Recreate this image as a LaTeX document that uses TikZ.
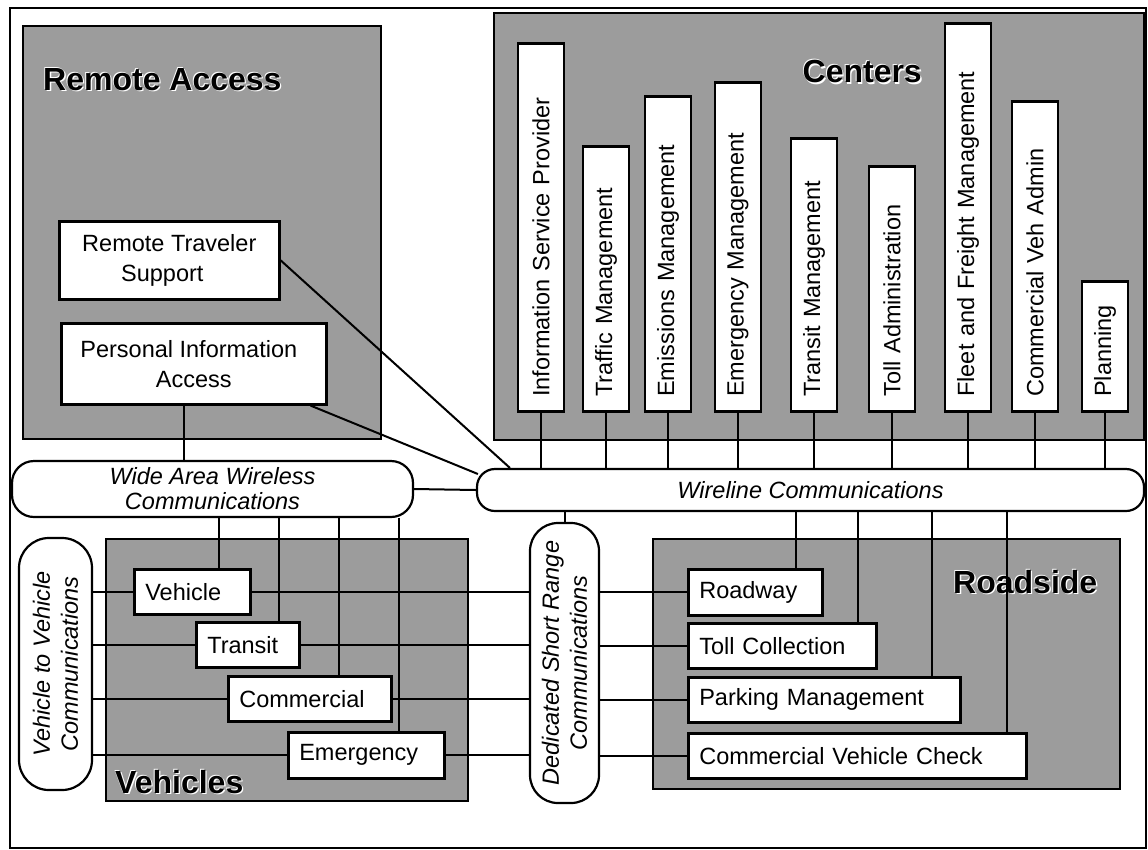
\documentclass[tikz,border=0pt]{standalone}
\usepackage{fontspec}
\setmainfont{Liberation Sans}
\usetikzlibrary{calc}
\definecolor{zonegray}{RGB}{156,156,156}
\pgfdeclarelayer{zones}
\pgfdeclarelayer{wires}
\pgfsetlayers{zones,wires,main}
% bold zone title with a light white halo
\newcommand\halotxt[1]{{\setbox0=\hbox{#1}%
  \rlap{\color{white}\kern1.3pt\lower1.3pt\copy0}%
  \rlap{\color{white}\kern-0.9pt\raise0.9pt\copy0}%
  \box0}}
\begin{document}
\begin{tikzpicture}[x=1pt,y=-1pt,
  zone/.style={draw=black, line width=2.4pt, fill=zonegray, inner sep=0pt, anchor=north west},
  unit/.style={draw=black, line width=2.6pt, fill=white, inner sep=0pt,
    font=\fontsize{23.5}{30}\selectfont},
  rowunit/.style={unit, anchor=north west, align=left, inner xsep=11pt},
  colunit/.style={unit, rotate=90, anchor=west, minimum height=46pt, align=left, inner xsep=15pt},
  channel/.style={draw=black, line width=2.2pt, fill=white, inner sep=0pt, align=center,
    font=\fontsize{23.5}{25}\selectfont\itshape},
  upright channel/.style={channel, rotate=90, font=\fontsize{23.5}{28}\selectfont\itshape},
  link/.style={line width=2pt},
  zonetitle/.style={inner sep=0pt, font=\fontsize{32}{36}\selectfont\bfseries},
]
\useasboundingbox (0,0) rectangle (1148,849);

% frame, shaded zones and their titles
\begin{pgfonlayer}{zones}
  \node[draw=black, line width=1.6pt, inner sep=0pt, anchor=north west,
        minimum width=1136pt, minimum height=840pt] (frame) at (9,7) {};
  \node[zone, minimum width=358pt, minimum height=413pt] (remote) at (22,25) {};
  \node[zone, minimum width=650pt, minimum height=427pt] (centers) at (493,12) {};
  \node[zone, minimum width=362pt, minimum height=262pt] (vehicles) at (105,538) {};
  \node[zone, minimum width=467pt, minimum height=250pt] (roadside) at (652,538) {};
  \node[zonetitle, anchor=west] (ratitle) at (43,80) {\halotxt{Remote Access}};
  \node[zonetitle, anchor=east] (cetitle) at (922,72) {\halotxt{Centers}};
  \node[zonetitle, anchor=west] (rstitle) at (953,582) {\halotxt{Roadside}};
  \node[zonetitle, anchor=west] (vetitle) at (115,782) {\halotxt{Vehicles}};
\end{pgfonlayer}

% remote access units
\node[unit, anchor=north west, align=center, minimum width=220pt, minimum height=78pt]
  (rts) at (58,220) {Remote Traveler\\Support\hspace*{14pt}};
\node[unit, anchor=north west, align=center, minimum width=265pt, minimum height=81pt]
  (pia) at (60,322) {Personal Information\hspace*{10pt}\\Access};

% center units (vertical)
\node[colunit, minimum width=368pt, text width=338pt] (isp)     at (541,413) {Information Service Provider};
\node[colunit, minimum width=265pt, text width=235pt] (traffic) at (606,413) {Traffic Management};
\node[colunit, minimum width=315pt, text width=285pt] (emiss)   at (668,413) {Emissions Management};
\node[colunit, minimum width=329pt, text width=299pt] (emgmt)   at (738,413) {Emergency Management};
\node[colunit, minimum width=273pt, text width=243pt] (transm)  at (814,413) {Transit Management};
\node[colunit, minimum width=245pt, text width=215pt] (tolladm) at (892,413) {Toll Administration};
\node[colunit, minimum width=388pt, text width=358pt] (fleet)   at (968,413) {Fleet and Freight Management};
\node[colunit, minimum width=310pt, text width=280pt] (cva)     at (1035,413) {Commercial Veh Admin};
\node[colunit, minimum width=130pt, text width=100pt] (plan)    at (1105,413) {Planning};

% communication channels
\node[channel, rounded corners=22pt, minimum width=401pt, minimum height=56pt]
  (waw) at (212.5,489) {Wide Area Wireless\\Communications};
\node[channel, rounded corners=18pt, minimum width=667pt, minimum height=42pt]
  (wire) at (810.5,490) {Wireline Communications};
\node[upright channel, rounded corners=30pt, minimum width=252pt, minimum height=73pt]
  (v2v) at (55.5,664) {Vehicle to Vehicle\\Communications};
\node[upright channel, rounded corners=28pt, minimum width=280pt, minimum height=69pt]
  (dsrc) at (564.5,663) {Dedicated Short Range\\Communications};

% vehicle units
\node[rowunit, minimum width=116pt, minimum height=45pt, text width=94pt]  (veh)     at (133,568) {Vehicle};
\node[rowunit, minimum width=103pt, minimum height=45pt, text width=81pt]  (transit) at (195,621) {Transit};
\node[rowunit, minimum width=163pt, minimum height=45pt, text width=141pt] (comm)    at (227,675) {Commercial};
\node[rowunit, minimum width=156pt, minimum height=46pt, text width=134pt] (emerg)   at (287,731) {Emergency};

% roadside units
\node[rowunit, minimum width=134pt, minimum height=46pt, text width=112pt] (road) at (687,568) {Roadway};
\node[rowunit, minimum width=188pt, minimum height=45pt, text width=166pt] (toll) at (687,622) {Toll Collection};
\node[rowunit, minimum width=272pt, minimum height=45pt, text width=250pt] (park) at (687,676) {Parking Management};
\node[rowunit, minimum width=338pt, minimum height=45pt, text width=316pt] (cvc)  at (687,732) {Commercial Vehicle Check};

% connectors
\begin{pgfonlayer}{wires}
  \foreach \c in {isp,traffic,emiss,emgmt,transm,tolladm,fleet,cva,plan}
    \draw[link] (\c.west) -- (\c.west |- wire.north);
  \draw[link] (rts.east) -- ([xshift=34pt]wire.north west);
  \draw[link] ([xshift=-17pt]pia.south east) -- ([xshift=2pt,yshift=16pt]wire.west);
  \draw[link] ([xshift=-10pt]pia.south) -- ([xshift=-10pt]pia.south |- waw.north);
  \draw[link] (waw.east) -- (wire.west);
  \draw[link] (dsrc.center) -- (dsrc.center |- wire.south);
  % wireless drops to vehicles
  \draw[link] (waw.south -| 219,0) -- (veh.north -| 219,0);
  \draw[link] (waw.south -| 279,0) -- (transit.north -| 279,0);
  \draw[link] (waw.south -| 339,0) -- (comm.north -| 339,0);
  \draw[link] (waw.south -| 399,0) -- (emerg.north -| 399,0);
  % wireline drops to roadside
  \draw[link] (wire.south -| 796,0) -- (road.north -| 796,0);
  \draw[link] (wire.south -| 858,0) -- (toll.north -| 858,0);
  \draw[link] (wire.south -| 932,0) -- (park.north -| 932,0);
  \draw[link] (wire.south -| 1007,0) -- (cvc.north -| 1007,0);
  % short range rows
  \foreach \r in {veh,transit,comm,emerg}
    \draw[link] (v2v.center |- \r.west) -- (dsrc.center |- \r.west);
  \foreach \r in {road,toll,park,cvc}
    \draw[link] (dsrc.center |- \r.west) -- (\r.west);
\end{pgfonlayer}
\end{tikzpicture}
\end{document}
